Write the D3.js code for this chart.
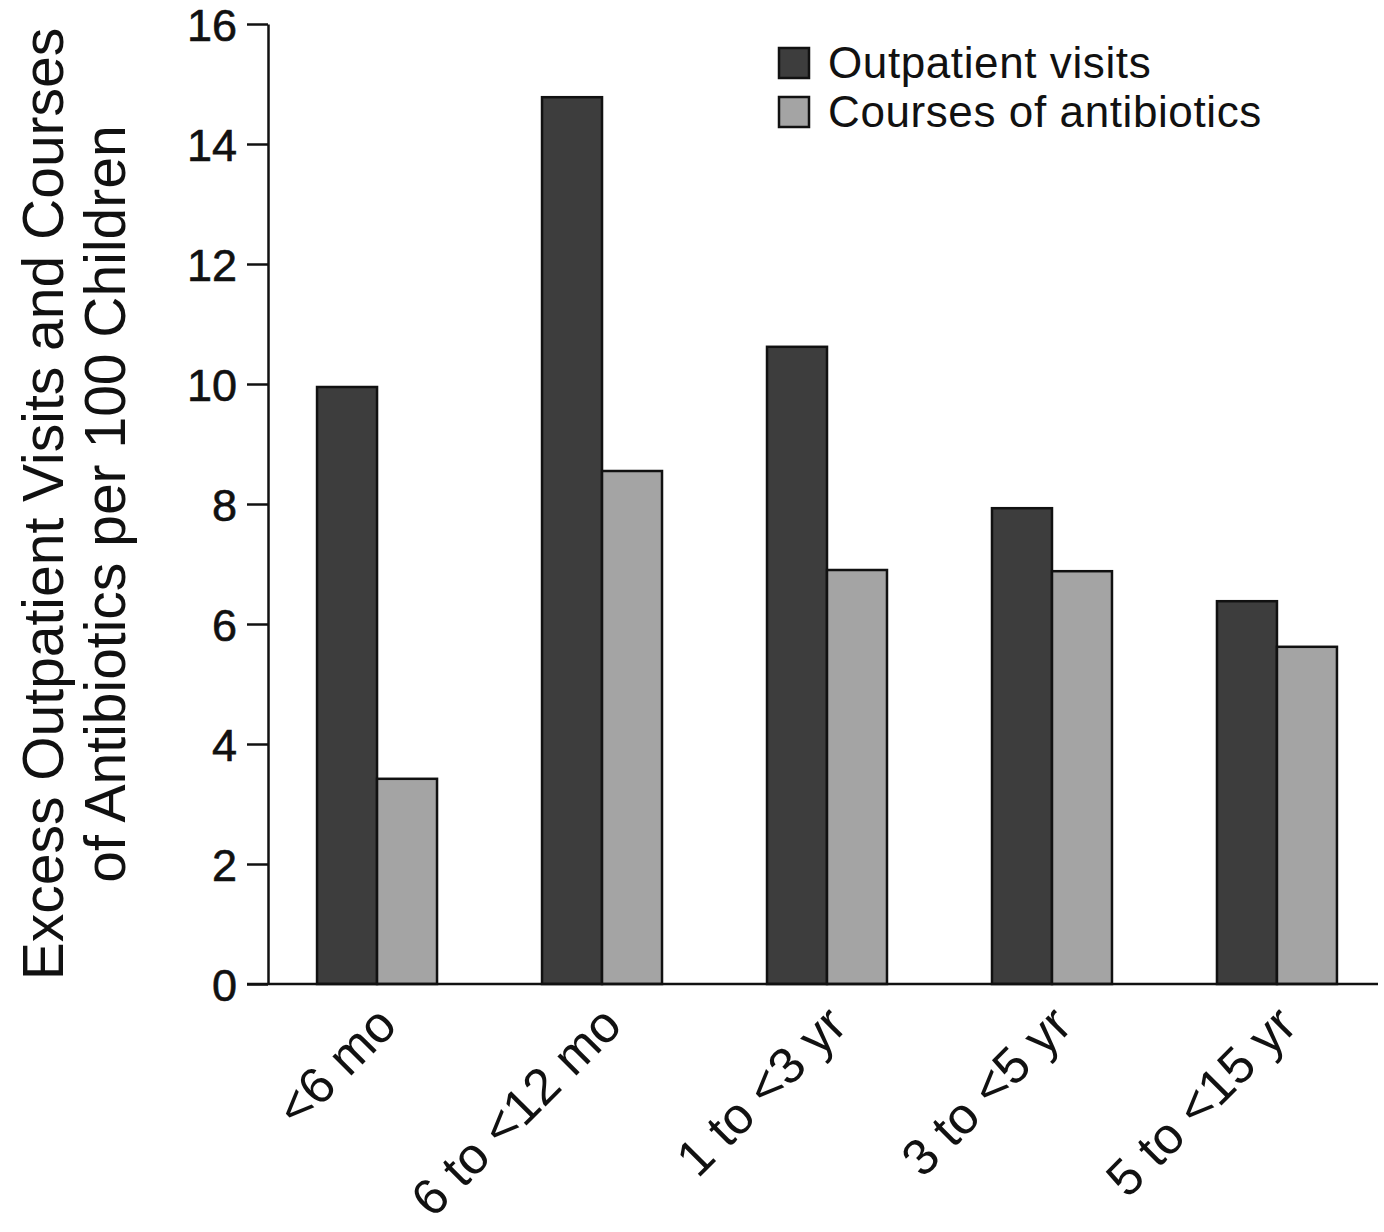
<!DOCTYPE html>
<html>
<head>
<meta charset="utf-8">
<script src="https://cdn.jsdelivr.net/npm/d3@7"></script>
<style>
  body { margin: 0; background: #fff; }
  text { font-family: "Liberation Sans", Arial, Helvetica, sans-serif; fill: #111; }
</style>
</head>
<body>
<div class="container"></div>
<script>
// data
const ageGroups = ["<6 mo", "6 to <12 mo", "1 to <3 yr", "3 to <5 yr", "5 to <15 yr"]
const seriesNames = ["Outpatient visits", "Courses of antibiotics"]
const outpatientVisits = [9.95, 14.78, 10.62, 7.93, 6.38]
const antibioticCourses = [3.42, 8.55, 6.9, 6.88, 5.62]
const yTicks = [0, 2, 4, 6, 8, 10, 12, 14, 16]
const seriesColors = ["#3d3d3d", "#a4a4a4"]

const w = 1384
const h = 1232

const rows = ageGroups.map((g, i) => ({ group: g, values: [outpatientVisits[i], antibioticCourses[i]] }))

const svg = d3.select(".container")
  .append("svg")
  .attr("width", w)
  .attr("height", h)

const yScale = d3.scaleLinear()
  .domain([0, 16])
  .range([984, 24])

const xScale = d3.scaleBand()
  .domain(ageGroups)
  .range([268, 1386])
  .paddingInner(0.4667)
  .paddingOuter(0.218)

const xSub = d3.scaleBand()
  .domain(seriesNames)
  .range([0, xScale.bandwidth()])

// bars
const groups = svg.selectAll("g.group")
  .data(rows)
  .enter()
  .append("g")
  .attr("class", "group")
  .attr("transform", d => `translate(${xScale(d.group)},0)`)

groups.selectAll("rect")
  .data(d => d.values.map((v, i) => ({ name: seriesNames[i], value: v, color: seriesColors[i] })))
  .enter()
  .append("rect")
  .attr("x", d => xSub(d.name))
  .attr("width", xSub.bandwidth())
  .attr("y", d => yScale(d.value))
  .attr("height", d => yScale(0) - yScale(d.value))
  .attr("fill", d => d.color)
  .attr("stroke", "#111")
  .attr("stroke-width", 2.5)

// y axis
const yAxis = d3.axisLeft(yScale)
  .tickValues(yTicks)
  .tickSize(21)
  .tickPadding(10)
  .tickSizeOuter(0)

const yG = svg.append("g")
  .attr("transform", "translate(268,0)")
  .call(yAxis)
yG.select(".domain").attr("stroke", "#111").attr("stroke-width", 2.5)
yG.selectAll(".tick line").attr("stroke", "#111").attr("stroke-width", 2.5)
yG.selectAll(".tick text")
  .attr("font-size", 45)
  .attr("fill", "#111")
  .attr("stroke", "#111")
  .attr("stroke-width", 0.6)
  .attr("dy", "0.36em")
  .attr("font-family", "Liberation Sans, Arial, sans-serif")

// x axis baseline
svg.append("line")
  .attr("x1", 247)
  .attr("x2", 1378)
  .attr("y1", yScale(0))
  .attr("y2", yScale(0))
  .attr("stroke", "#111")
  .attr("stroke-width", 2.5)

// x labels, rotated
svg.selectAll("text.xlabel")
  .data(ageGroups)
  .enter()
  .append("text")
  .attr("class", "xlabel")
  .attr("text-anchor", "end")
  .attr("font-size", 51)
  .attr("transform", d => `translate(${xScale(d) + xScale.bandwidth() / 2 + 22},${yScale(0) + 44}) rotate(-45)`)
  .text(d => d)

// y title
const yTitle = svg.append("text")
  .attr("text-anchor", "middle")
  .attr("font-size", 57)
  .attr("transform", `translate(63,${(yScale(0) + yScale(16)) / 2}) rotate(-90)`)
yTitle.append("tspan").attr("x", 0).attr("y", 0).text("Excess Outpatient Visits and Courses")
yTitle.append("tspan").attr("x", 0).attr("y", 62).text("of Antibiotics per 100 Children")

// legend
const legend = svg.selectAll("g.legend")
  .data(seriesNames)
  .enter()
  .append("g")
  .attr("class", "legend")
  .attr("transform", (d, i) => `translate(779,${48 + i * 49})`)

legend.append("rect")
  .attr("width", 30)
  .attr("height", 30)
  .attr("fill", (d, i) => seriesColors[i])
  .attr("stroke", "#111")
  .attr("stroke-width", 2.5)

legend.append("text")
  .attr("x", 49)
  .attr("y", 30)
  .attr("font-size", 44)
  .attr("letter-spacing", 0.6)
  .text(d => d)
</script>
</body>
</html>
